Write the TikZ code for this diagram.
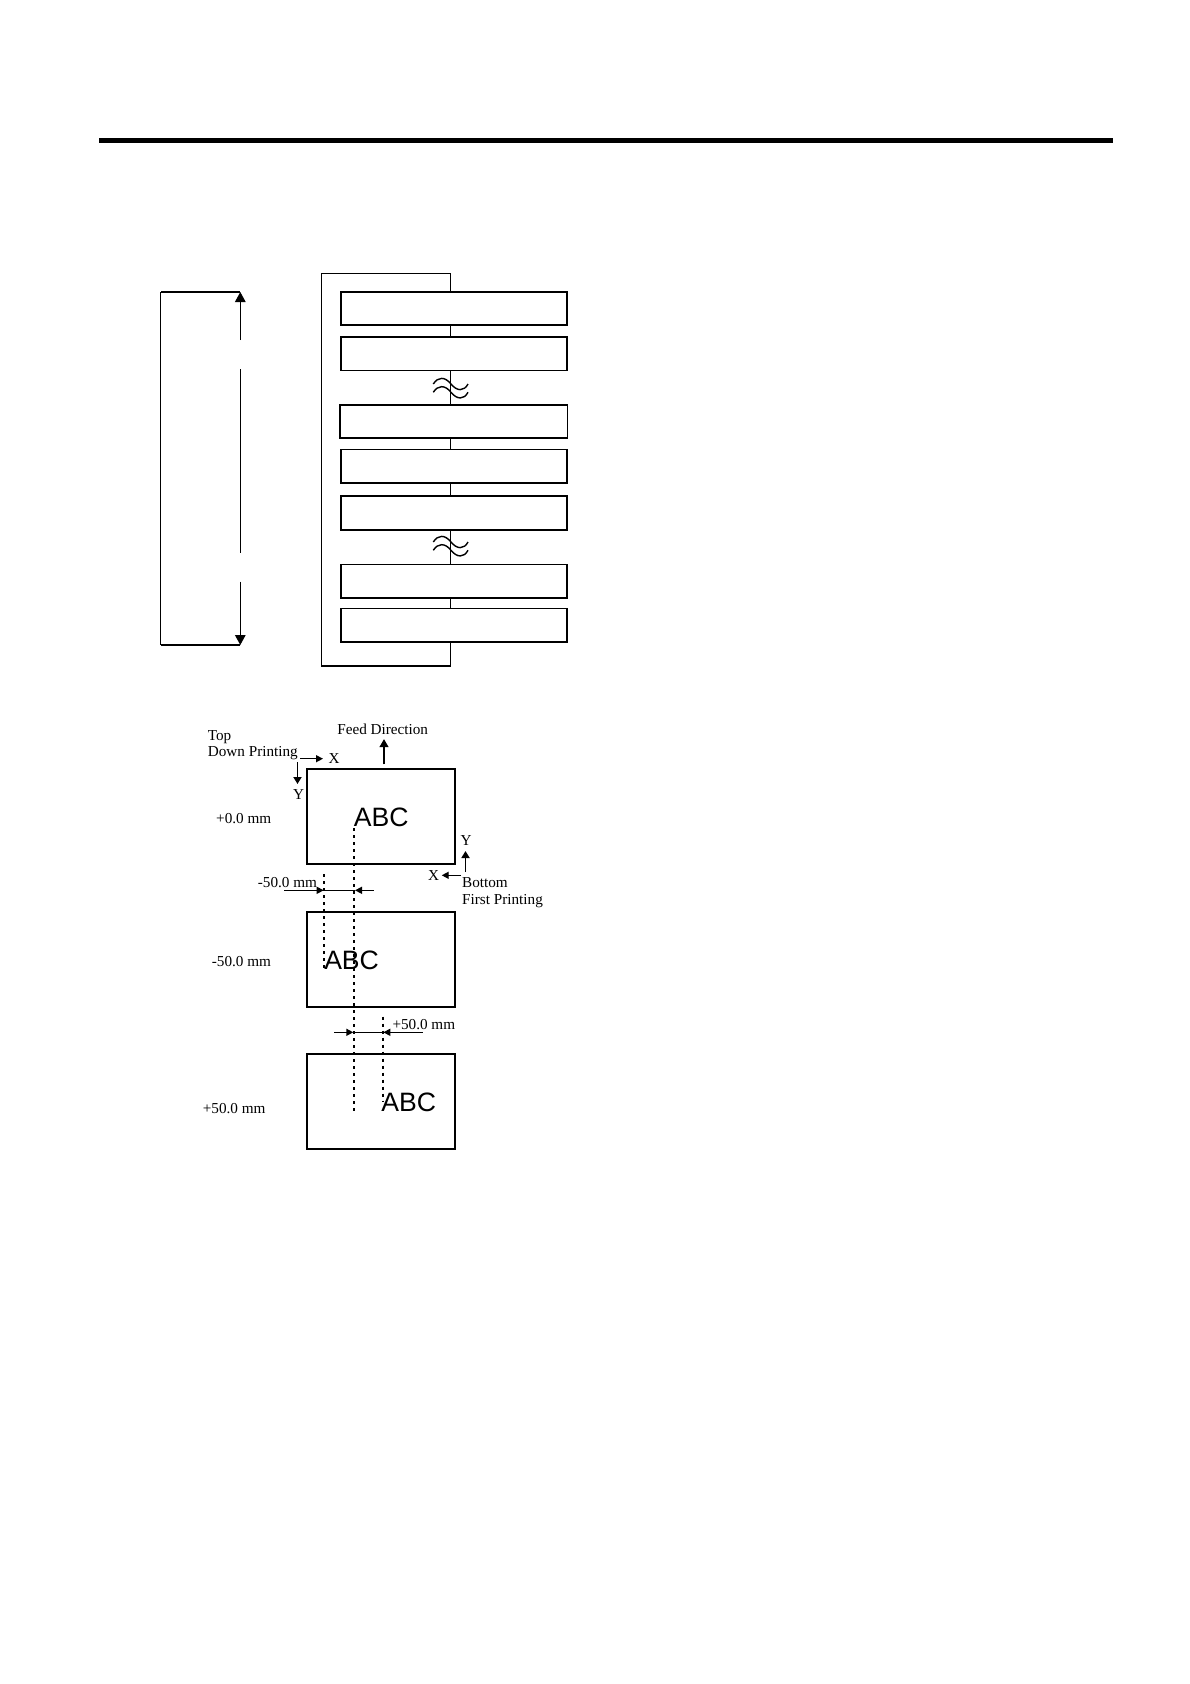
\documentclass[tikz,border=0pt]{standalone}
\usepackage{fontspec}
\setmainfont{Liberation Serif}
\newfontfamily\abcfont{Liberation Sans}
\usetikzlibrary{arrows.meta}
\tikzset{
  pbox/.style={draw=black,line width=1.7pt,inner sep=0pt,minimum width=226.6pt,minimum height=33.6pt},
  sheet/.style={draw=black,line width=1.9pt,inner sep=0pt,minimum width=148.3pt,minimum height=95pt},
  wire/.style={draw=black,line width=1.4pt},
  wave/.style={draw=black,line width=1.4pt},
  lbl/.style={inner sep=0pt,font=\fontsize{15.2pt}{15.2pt}\selectfont,text=black},
  abc/.style={inner sep=0pt,anchor=base,font=\abcfont\fontsize{26.6pt}{26.6pt}\selectfont,text=black},
  big/.style={wire,-{Triangle[length=10pt,width=10.5pt]}},
  small/.style={wire,-{Triangle[length=7pt,width=7pt]}},
  heavy/.style={draw=black,line width=2.8pt,-{Triangle[length=8pt,width=8.5pt]}},
  dots/.style={draw=black,line width=1.6pt,dash pattern=on 3pt off 4pt},
  dotsb/.style={draw=black,line width=2.1pt,dash pattern=on 3pt off 4pt}
}
\begin{document}
\begin{tikzpicture}[x=1pt,y=-1pt]
\useasboundingbox (0,0) rectangle (1190,1684);
% header rule
\coordinate (ruleL) at (99,140.5);
\coordinate (ruleR) at (1113,140.5);
\draw[line width=4.4pt] (ruleL) -- (ruleR);
% left bracket
\coordinate (brTop) at (240.3,292);
\coordinate (brBot) at (240.3,645);
\coordinate (brTL) at (160.7,292);
\coordinate (brBL) at (160.7,645);
\coordinate (gapA) at (240.3,340);
\coordinate (gapB) at (240.3,369);
\coordinate (gapC) at (240.3,552.7);
\coordinate (gapD) at (240.3,581.7);
\draw[line width=1.4pt] (brTL) -- (brBL);
\draw[line width=2.2pt] (brTop) -- (brTL);
\draw[line width=2.2pt] (brBot) -- (brBL);
\draw[big] (gapA) -- (brTop);
\draw[wire] (gapB) -- (gapC);
\draw[big] (gapD) -- (brBot);
% boxes
\node[pbox] (b1) at (454,308.5) {};
\node[pbox] (b2) at (454,353.8) {};
\node[pbox,minimum width=227.3pt] (b3) at (453.7,421.5) {};
\node[pbox] (b4) at (454,466.3) {};
\node[pbox] (b5) at (454,513) {};
\node[pbox] (b6) at (454,581.3) {};
\node[pbox] (b7) at (454,625.2) {};
\coordinate (spine) at (450.7,0);
\coordinate (cTR) at (450.7,273.3);
\coordinate (cTL) at (321.3,273.3);
\coordinate (cBL) at (321.3,666);
\coordinate (cBR) at (450.7,666);
\draw[wire] (b1.north -| spine) -- (cTR) -- (cTL) -- (cBL);
\draw[line width=2.2pt] (cBL) -- (cBR);
\draw[wire] (cBR) -- (b7.south -| spine);
\draw[wire] (b1.south -| spine) -- (b2.north -| spine);
\draw[wire] (b2.south -| spine) -- (b3.north -| spine);
\draw[wire] (b3.south -| spine) -- (b4.north -| spine);
\draw[wire] (b4.south -| spine) -- (b5.north -| spine);
\draw[wire] (b5.south -| spine) -- (b6.north -| spine);
\draw[wire] (b6.south -| spine) -- (b7.north -| spine);
% break marks
\foreach \yo in {0,158}{
  \foreach \dy in {0,8.3}{
    \draw[wave] (433.3,384+\yo+\dy) .. controls (438,376.5+\yo+\dy) and (445,376.5+\yo+\dy) .. (451,384+\yo+\dy)
      .. controls (457,391.5+\yo+\dy) and (464,391.5+\yo+\dy) .. (468,384+\yo+\dy);
  }
}
% sheets
\node[sheet] (sA) at (381.2,816.5) {};
\node[sheet] (sB) at (381.2,959.2) {};
\node[sheet] (sC) at (381.2,1101.2) {};
% ABC
\node[abc] (abcA) at (381.3,826.7) {ABC};
\node[abc] (abcB) at (351.6,969.3) {ABC};
\node[abc] (abcC) at (408.8,1111.7) {ABC};
% dotted lines
\coordinate (d1a) at (353.7,828);
\coordinate (d1b) at (353.7,1111.7);
\coordinate (d2a) at (323.7,874);
\coordinate (d2b) at (323.7,968);
\coordinate (d3a) at (382.7,1016.7);
\coordinate (d3b) at (382.7,1101.7);
\draw[dots] (d1a) -- (d1b);
\draw[dotsb] (d2a) -- (d2b);
\draw[dots] (d3a) -- (d3b);
% dimensions
\coordinate (dimAL) at (284.3,890.3);
\coordinate (dimAa) at (323.7,890.3);
\coordinate (dimAb) at (355,890.3);
\coordinate (dimAR) at (373.7,890.3);
\draw[small] (dimAL) -- (dimAa);
\draw[small] (dimAR) -- (dimAb);
\draw[wire] (dimAa) -- (dimAb);
\coordinate (dimBL) at (334,1032.3);
\coordinate (dimBa) at (353.3,1032.3);
\coordinate (dimBb) at (383.3,1032.3);
\coordinate (dimBR) at (422.7,1032.3);
\draw[small] (dimBL) -- (dimBa);
\draw[small] (dimBR) -- (dimBb);
\draw[wire] (dimBa) -- (dimBb);
% labels
\node[lbl,anchor=base] (feed) at (382.7,734) {Feed Direction};
\node[lbl,anchor=base west] (top) at (207.7,740) {Top};
\node[lbl,anchor=base west] (down) at (207.7,756) {Down Printing};
\node[lbl] (xa) at (334,759) {X};
\node[lbl] (ya) at (298.5,794.5) {Y};
\node[lbl,anchor=base west] (zero) at (216,823.5) {+0.0 mm};
\node[lbl] (yb) at (466,840.5) {Y};
\node[lbl] (xb) at (433.5,876) {X};
\node[lbl,anchor=base west] (bottom) at (462,887.7) {Bottom};
\node[lbl,anchor=base west] (first) at (462,904) {First Printing};
\node[lbl,anchor=base west] (m50a) at (257.7,887.5) {-50.0 mm};
\node[lbl,anchor=base west] (m50b) at (211.7,966.5) {-50.0 mm};
\node[lbl,anchor=base west] (p50a) at (392.3,1029.5) {+50.0 mm};
\node[lbl,anchor=base west] (p50b) at (202.7,1113.5) {+50.0 mm};
% axis arrows
\coordinate (feedS) at (384,764.3);
\coordinate (feedE) at (384,739);
\draw[heavy] (feedS) -- (feedE);
\coordinate (axA) at (300,758.7);
\coordinate (axB) at (323,758.7);
\coordinate (axC) at (297.5,762.3);
\coordinate (axD) at (297.5,784);
\draw[small] (axA) -- (axB);
\draw[line width=1.7pt,-{Triangle[length=7pt,width=8pt]}] (axC) -- (axD);
\coordinate (axE) at (465.5,872);
\coordinate (axF) at (465.5,851);
\coordinate (axG) at (461,875.3);
\coordinate (axH) at (441.7,875.3);
\draw[line width=1.7pt,-{Triangle[length=7pt,width=8pt]}] (axE) -- (axF);
\draw[small] (axG) -- (axH);
\end{tikzpicture}
\end{document}
